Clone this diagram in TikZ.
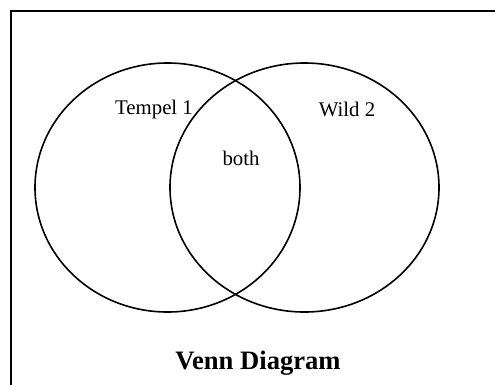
\documentclass[tikz,border=0pt]{standalone}
\usepackage{fontspec}
\setmainfont{Liberation Serif}
\tikzset{
  venn/.style={draw, line width=1.6pt},
  lbl/.style={inner sep=0pt, font=\fontsize{20.8}{24}\selectfont},
  ttl/.style={inner sep=0pt, font=\fontsize{26.6}{30}\selectfont\bfseries}
}
\begin{document}
\begin{tikzpicture}[x=1pt,y=-1pt]
\useasboundingbox (0,0) rectangle (495,384);
\clip (0,0) rectangle (495,384);
\fill[white] (0,0) rectangle (495,384);
\draw[line width=2pt] (10.5,400) -- (10.5,10.5) -- (520,10.5);
\draw[venn] (167.5,187.5) ellipse [x radius=132.5, y radius=124.5];
\draw[venn] (304.5,187.5) ellipse [x radius=134.5, y radius=124.5];
\node[lbl] (t) at (154,109) {Tempel 1};
\node[lbl] (w) at (347,109) {Wild 2};
\node[lbl] (b) at (241,158) {both};
\node[ttl] (v) at (258,363) {Venn Diagram};
\end{tikzpicture}
\end{document}
